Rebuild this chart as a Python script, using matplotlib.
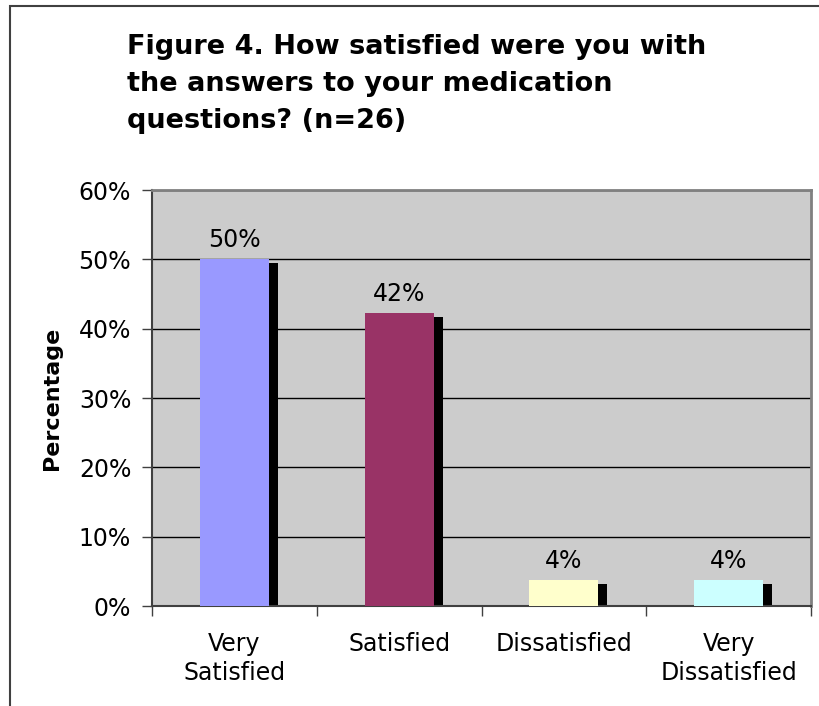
import matplotlib.pyplot as plt
from matplotlib.patches import Rectangle
from matplotlib.transforms import offset_copy

# survey answers, n=26
categories = ['Very\nSatisfied', 'Satisfied', 'Dissatisfied', 'Very\nDissatisfied']
percents = [50.0, 42.3, 3.8, 3.8]
bar_labels = ['50%', '42%', '4%', '4%']
colors = ['#9999FF', '#993366', '#FFFFCC', '#CCFFFF']
yticks = [0, 10, 20, 30, 40, 50, 60]
title = 'Figure 4. How satisfied were you with\nthe answers to your medication\nquestions? (n=26)'

W, H = 819, 706
fig = plt.figure(figsize=(W / 100, H / 100), dpi=100)
fig.patch.set_facecolor('white')

# outer chart border (cropped on right/bottom)
fig.patches.append(Rectangle((10 / W, -0.1), 1.2, (H - 6) / H + 0.1, transform=fig.transFigure,
                             fill=False, ec='#404040', lw=1.5))

ax = fig.add_axes([152 / W, (H - 606) / H, 659 / W, 416 / H])
ax.set_facecolor('#CCCCCC')

x = list(range(len(categories)))
width = 0.42

# black "3d" shadow behind each bar
shadow_tr = offset_copy(ax.transData, fig=fig, x=9, y=-4, units='dots')
ax.bar(x, percents, width=width, color='black', zorder=2, transform=shadow_tr)
ax.bar(x, percents, width=width, color=colors, zorder=3)

for xi, p, lab in zip(x, percents, bar_labels):
    ax.annotate(lab, (xi, p), xytext=(0, 7), textcoords='offset pixels',
                ha='center', va='bottom', fontsize=17, color='black')

ax.set_xlim(-0.5, 3.5)
ax.set_ylim(0, 60)
ax.set_yticks(yticks)
ax.set_yticklabels([f'{v}%' for v in yticks], fontsize=17)
ax.yaxis.grid(True, color='black', lw=1)
ax.set_axisbelow(True)
ax.tick_params(axis='y', length=7, width=1, color='#404040', pad=8)

ax.set_xticks(x)
ax.set_xticklabels(categories, fontsize=17, linespacing=1.25)
ax.tick_params(axis='x', which='major', length=0, pad=19)
ax.set_xticks([-0.5, 0.5, 1.5, 2.5, 3.5], minor=True)
ax.tick_params(axis='x', which='minor', length=7, width=1, color='#404040')

for s in ['left', 'bottom']:
    ax.spines[s].set_color('#404040')
    ax.spines[s].set_linewidth(1.5)
for s in ['top', 'right']:
    ax.spines[s].set_color('#808080')
    ax.spines[s].set_linewidth(2)

ax.set_ylabel('Percentage', fontsize=16, fontweight='bold', labelpad=12)

fig.text(127 / W, 1 - 34 / H, title, fontsize=19.5, fontweight='bold',
         ha='left', va='top', linespacing=1.55)

fig.savefig('out.png', dpi=100)
